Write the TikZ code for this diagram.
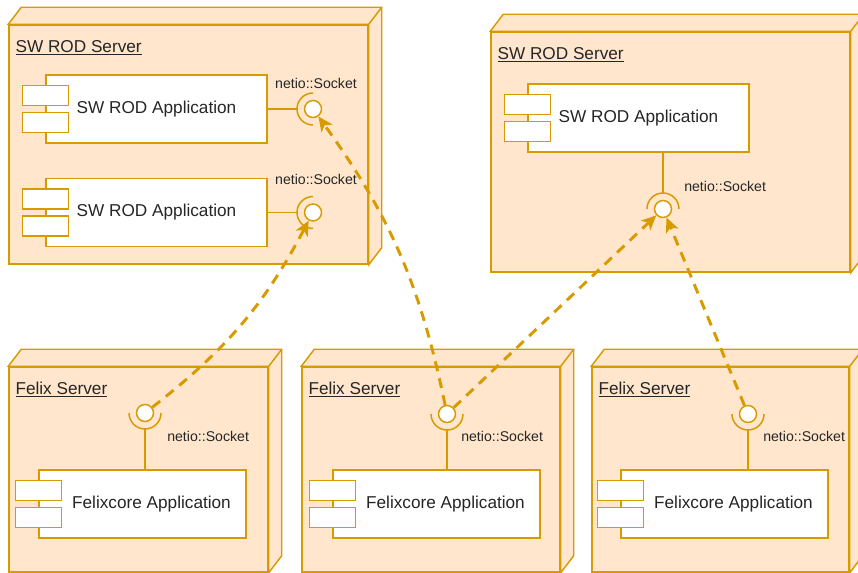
\documentclass[tikz,border=0pt]{standalone}
\usepackage{fontspec}
\setmainfont{Liberation Sans}
\usetikzlibrary{positioning,arrows.meta}

\definecolor{boxfill}{HTML}{FFE6CC}
\definecolor{boxline}{HTML}{D79B00}
\definecolor{labeltext}{HTML}{262626}

\tikzset{
  server/.style={draw=boxline, fill=boxfill, line width=1.1pt},
  comp/.style={draw=boxline, fill=white, line width=1.1pt, minimum height=51pt,
    font=\fontsize{12.9}{15}\selectfont, text=labeltext},
  tab/.style={draw=boxline, fill=white, line width=1.1pt, minimum width=34.5pt,
    minimum height=15pt, inner sep=0pt},
  ball/.style={circle, draw=boxline, fill=white, line width=1.1pt,
    minimum size=12.75pt, inner sep=0pt},
  wire/.style={draw=boxline, line width=1.1pt},
  sockettext/.style={font=\fontsize{10.6}{12}\selectfont, text=labeltext, inner sep=0pt},
  title/.style={font=\fontsize{12.9}{15}\selectfont, text=labeltext, inner sep=0pt,
    anchor=base west},
  link/.style={draw=boxline, line width=2.2pt, dash pattern=on 7.5pt off 5.5pt,
    -{Stealth[length=11pt, width=10pt, inset=3pt]}},
}

% front face is a node, top and right faces are drawn around it
\newcommand{\serverbox}[5]{%
  \node[server, minimum width=#3, minimum height=#4, inner sep=0pt] (#1) at #2 {};
  \draw[server] (#1.north west) -- ++(13,-17) -- ([shift={(13,-17)}]#1.north east)
    -- ([shift={(13,-17)}]#1.south east) -- (#1.south east) -- (#1.north east) -- cycle;
  \draw[server] (#1.north east) -- ++(13,-17);
  \node[title] (#1-title) at ([shift={(7,28)}]#1.north west) {\underline{#5}};
}

\begin{document}
\begin{tikzpicture}[x=0.75pt, y=-0.75pt]
  \useasboundingbox (0,0) rectangle (858,573);

  % servers
  \serverbox{rodsrv1}{(188.5,144.5)}{269.25pt}{179.25pt}{SW ROD Server}
  \serverbox{rodsrv2}{(670.5,152)}{269.25pt}{180pt}{SW ROD Server}
  \serverbox{felixsrv1}{(138.5,469.5)}{194.25pt}{153.75pt}{Felix Server}
  \serverbox{felixsrv2}{(431,469.5)}{193.5pt}{153.75pt}{Felix Server}
  \serverbox{felixsrv3}{(720.5,469.5)}{192.75pt}{153.75pt}{Felix Server}

  % applications
  \node[comp, minimum width=165.75pt] (rodapp1) at (156.5,109) {SW ROD Application};
  \node[comp, minimum width=165.75pt] (rodapp2) at (156.5,212.5) {SW ROD Application};
  \node[comp, minimum width=165.75pt] (rodapp3) at (638.5,118) {SW ROD Application};
  \node[comp, minimum width=155.25pt,
    label={[xshift=6.75pt, font=\fontsize{12.9}{15}\selectfont, text=labeltext]center:Felixcore Application}]
    (felixapp1) at (142.5,504) {};
  \node[comp, minimum width=155.25pt,
    label={[xshift=6.75pt, font=\fontsize{12.9}{15}\selectfont, text=labeltext]center:Felixcore Application}]
    (felixapp2) at (436.5,504) {};
  \node[comp, minimum width=155.25pt,
    label={[xshift=6.75pt, font=\fontsize{12.9}{15}\selectfont, text=labeltext]center:Felixcore Application}]
    (felixapp3) at (724.5,504) {};

  \foreach \c in {rodapp1,rodapp2,rodapp3,felixapp1,felixapp2,felixapp3} {
    \node[tab] (\c-top) at ([yshift=10.1pt]\c.west) {};
    \node[tab] (\c-bot) at ([yshift=-10.1pt]\c.west) {};
  }

  % sockets on the SW ROD side
  \node[ball] (sockA) at (313,109) {};
  \node[ball] (sockB) at (313,212.5) {};
  \node[ball] (sockC) at (663,209) {};
  \foreach \s in {sockA,sockB} {
    \draw[wire] ([yshift=12pt]\s.center) arc[start angle=90, end angle=270, radius=12pt];
    \coordinate (\s-cup) at ([xshift=-12pt]\s.center);
  }
  \draw[wire] ([xshift=12pt]sockC.center) arc[start angle=0, end angle=180, radius=12pt];
  \coordinate (sockC-cup) at ([yshift=12pt]sockC.center);

  \draw[wire] (rodapp1) -- (sockA-cup);
  \draw[wire] (rodapp2) -- (sockB-cup);
  \draw[wire] (sockC-cup |- rodapp3.south) -- (sockC-cup);

  % sockets on the Felix side
  \node[ball] (ballF1) at (145,413) {};
  \node[ball] (ballF2) at (447,414) {};
  \node[ball] (ballF3) at (748,414) {};
  \foreach \b/\a in {ballF1/felixapp1,ballF2/felixapp2,ballF3/felixapp3} {
    \draw[wire] ([xshift=-12pt]\b.center) arc[start angle=180, end angle=360, radius=12pt];
    \coordinate (\b-cup) at ([yshift=-12pt]\b.center);
    \draw[wire] (\b-cup) -- (\b-cup |- \a.north);
  }

  % socket labels
  \node[sockettext, anchor=base] (lblA) at (316,89) {netio::Socket};
  \node[sockettext, anchor=base] (lblB) at (316,185) {netio::Socket};
  \node[sockettext, anchor=base west] (lblC) at (684,192) {netio::Socket};
  \node[sockettext, anchor=base west] (lblF1) at (167,442) {netio::Socket};
  \node[sockettext, anchor=base west] (lblF2) at (461,442) {netio::Socket};
  \node[sockettext, anchor=base west] (lblF3) at (763,442) {netio::Socket};

  % connections
  \draw[link] (ballF1) to[bend right=12] (sockB);
  \draw[link] (ballF2) to[bend right=12] (sockA);
  \draw[link] (ballF2) -- (sockC);
  \draw[link] (ballF3) -- (sockC);
\end{tikzpicture}
\end{document}
